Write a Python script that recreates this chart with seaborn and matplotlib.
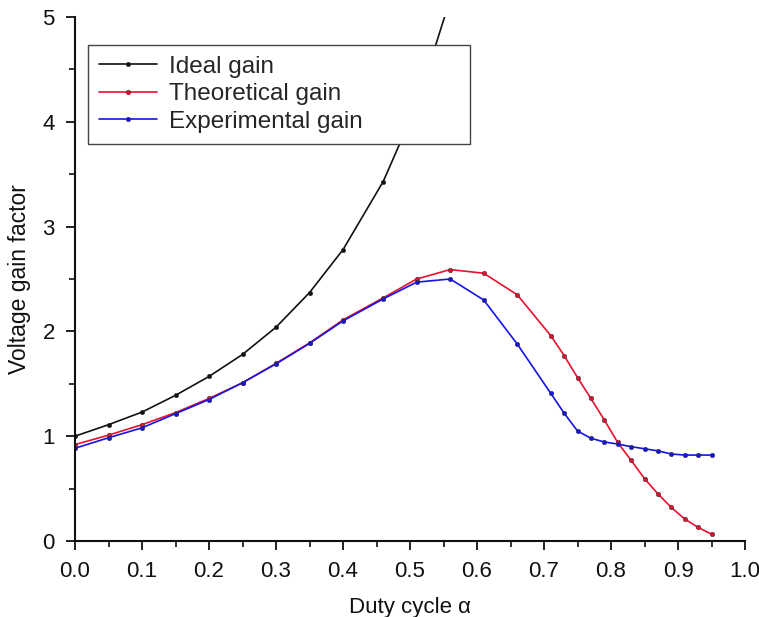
import matplotlib
matplotlib.use("Agg")
import matplotlib.pyplot as plt
from matplotlib.ticker import MultipleLocator
import pandas as pd
import seaborn as sns

# Duty cycle sample points and gain values
alpha_ideal = [0.00, 0.05, 0.10, 0.15, 0.20, 0.25, 0.30, 0.35, 0.40, 0.46, 0.51, 0.56]
gain_ideal = [1.00, 1.11, 1.23, 1.39, 1.57, 1.78, 2.04, 2.37, 2.78, 3.43, 4.16, 5.17]

alpha_meas = [0.00, 0.05, 0.10, 0.15, 0.20, 0.25, 0.30, 0.35, 0.40, 0.46, 0.51, 0.56,
              0.61, 0.66, 0.71, 0.73, 0.75, 0.77, 0.79, 0.81, 0.83, 0.85, 0.87, 0.89,
              0.91, 0.93, 0.95]
gain_theory = [0.92, 1.01, 1.11, 1.225, 1.36, 1.51, 1.695, 1.89, 2.11, 2.32, 2.50, 2.59,
               2.555, 2.35, 1.96, 1.77, 1.56, 1.36, 1.155, 0.94, 0.77, 0.595, 0.45, 0.32,
               0.21, 0.13, 0.065]
gain_exp = [0.885, 0.985, 1.08, 1.215, 1.35, 1.51, 1.69, 1.885, 2.10, 2.31, 2.47, 2.50,
            2.30, 1.88, 1.41, 1.22, 1.05, 0.98, 0.945, 0.925, 0.90, 0.88, 0.86, 0.83,
            0.82, 0.82, 0.82]

series_names = ["Ideal gain", "Theoretical gain", "Experimental gain"]
series_colors = ["#111111", "#e8102e", "#1414e6"]

df = pd.concat([
    pd.DataFrame({"alpha": alpha_ideal, "gain": gain_ideal, "series": series_names[0]}),
    pd.DataFrame({"alpha": alpha_meas, "gain": gain_theory, "series": series_names[1]}),
    pd.DataFrame({"alpha": alpha_meas, "gain": gain_exp, "series": series_names[2]}),
], ignore_index=True)

sns.set_theme(style="ticks")
plt.rcParams["font.family"] = ["Liberation Sans", "DejaVu Sans"]

fig = plt.figure(figsize=(7.59, 6.17), dpi=100)
ax = fig.add_axes([75 / 759, 1 - 541 / 617, 670 / 759, 524 / 617])

for name, color in zip(series_names, series_colors):
    sub = df[df["series"] == name]
    sns.lineplot(data=sub, x="alpha", y="gain", ax=ax, color=color, label=name,
                 marker="o", markersize=3.2, markeredgewidth=0.4,
                 markeredgecolor="#333333", linewidth=1.2, sort=False,
                 estimator=None, clip_on=True)

ax.set_xlim(0, 1.0)
ax.set_ylim(0, 5)
ax.xaxis.set_major_locator(MultipleLocator(0.1))
ax.xaxis.set_minor_locator(MultipleLocator(0.05))
ax.yaxis.set_major_locator(MultipleLocator(1))
ax.yaxis.set_minor_locator(MultipleLocator(0.5))
ax.set_xticklabels([f"{v:.1f}" for v in ax.get_xticks()])

for side in ("top", "right"):
    ax.spines[side].set_visible(False)
for side in ("left", "bottom"):
    ax.spines[side].set_linewidth(1.5)
    ax.spines[side].set_color("#111111")

ax.tick_params(axis="both", which="major", direction="out", length=6.5, width=1.3,
               labelsize=16, colors="#111111", pad=8)
ax.tick_params(axis="both", which="minor", direction="out", length=4, width=1.2,
               colors="#111111")

ax.set_xlabel("Duty cycle α", fontsize=16, color="#111111", labelpad=11)
ax.set_ylabel("Voltage gain factor", fontsize=16.5, color="#111111", labelpad=8)

leg = ax.legend(loc="upper left", bbox_to_anchor=(0.0194, 0.7595, 0.570, 0.187),
                mode="expand", borderaxespad=0, fontsize=17.5, frameon=True,
                fancybox=False, handlelength=2.4, handletextpad=0.5,
                labelspacing=0.22, borderpad=0.45)
leg.get_frame().set_edgecolor("#444444")
leg.get_frame().set_linewidth(1.0)
leg.get_frame().set_alpha(1.0)

fig.savefig("out.png", dpi=100)
